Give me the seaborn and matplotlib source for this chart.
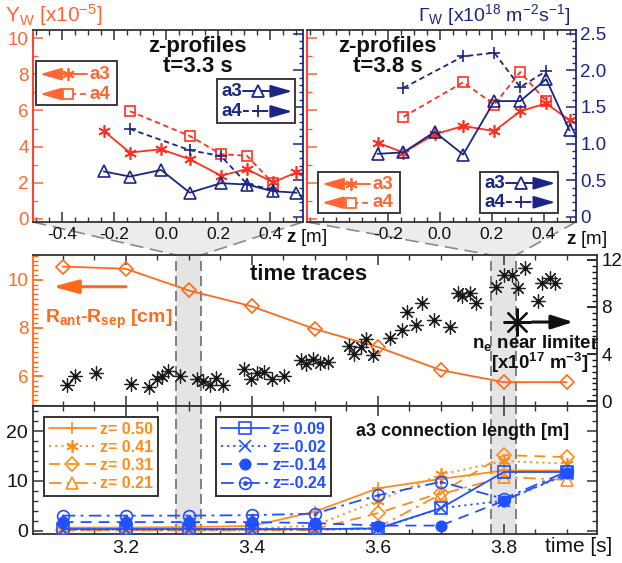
import numpy as np
import pandas as pd
import matplotlib
matplotlib.use('Agg')
import matplotlib.pyplot as plt
import seaborn as sns
from matplotlib.patches import Rectangle, Polygon
from matplotlib.lines import Line2D
from matplotlib.ticker import MultipleLocator, FixedLocator, FuncFormatter
from matplotlib.legend_handler import HandlerTuple

# ---------------- data ----------------
z_a3 = [-0.24, -0.14, -0.02, 0.09, 0.21, 0.31, 0.41, 0.50]
z_a4 = [-0.14, 0.09, 0.21, 0.31, 0.41]

yw_a3_t33 = [4.86, 3.67, 3.85, 3.30, 2.39, 2.75, 2.02, 2.57]
yw_a4_t33 = [5.96, 4.59, 3.58, 3.49, 1.96]
gw_a3_t33 = [0.62, 0.55, 0.64, 0.33, 0.46, 0.44, 0.35, 0.33]
gw_a4_t33 = [1.20, 0.91, 0.83, 0.45, 0.37]

yw_a3_t38 = [4.22, 3.67, 4.68, 5.14, 4.86, 5.96, 6.39, 5.47]
yw_a4_t38 = [5.65, 7.56, 6.33, 8.13, 6.51]
gw_a3_t38 = [0.86, 0.88, 1.16, 0.85, 1.58, 1.58, 1.88, 1.18]
gw_a4_t38 = [1.76, 2.19, 2.24, 1.77, 1.99]

t_scan = [3.1, 3.2, 3.3, 3.4, 3.5, 3.6, 3.7, 3.8, 3.9]
r_ant_sep = [10.55, 10.46, 9.56, 8.90, 7.96, 7.21, 6.25, 5.75, 5.75]

ne_t = [3.107, 3.119, 3.153, 3.209, 3.237, 3.249, 3.258, 3.268, 3.287, 3.314,
        3.323, 3.334, 3.344, 3.355, 3.388, 3.399, 3.408, 3.420, 3.432, 3.451,
        3.478, 3.487, 3.497, 3.508, 3.521, 3.554, 3.562, 3.573, 3.582, 3.592,
        3.620, 3.639, 3.647, 3.660, 3.671, 3.689, 3.715, 3.727, 3.734, 3.746,
        3.756, 3.787, 3.801, 3.813, 3.822, 3.833, 3.854, 3.860, 3.873, 3.882]
ne_val = [1.36, 2.12, 2.40, 1.41, 1.21, 1.89, 2.17, 2.54, 2.17, 1.89,
          1.69, 1.33, 1.98, 1.36, 2.74, 1.84, 2.40, 2.46, 1.89, 2.12,
          3.47, 3.11, 3.59, 3.25, 3.30, 4.66, 4.04, 4.60, 5.28, 3.95,
          5.36, 6.01, 7.54, 6.49, 8.33, 6.86, 6.30, 9.23, 8.95, 9.23,
          8.33, 9.74, 10.73, 10.73, 9.60, 11.35, 8.47, 10.02, 10.45, 10.08]

conn_labels_orange = ['z= 0.50', 'z= 0.41', 'z= 0.31', 'z= 0.21']
conn_labels_blue = ['z= 0.09', 'z=-0.02', 'z=-0.14', 'z=-0.24']
conn_z050 = [0.6, 0.6, 0.7, 0.9, 3.8, 8.5, 10.4, 12.1, 12.1]
conn_z041 = [0.3, 0.3, 0.3, 0.4, 1.0, 6.0, 11.3, 14.0, 13.5]
conn_z031 = [0.1, 0.1, 0.1, 0.1, 0.3, 3.5, 7.6, 15.2, 14.8]
conn_z021 = [0.0, 0.0, 0.0, 0.0, 0.1, 0.6, 7.3, 10.8, 10.2]
conn_z009 = [0.3, 0.3, 0.3, 0.3, 0.3, 0.4, 4.5, 11.8, 11.8]
conn_zm002 = [0.2, 0.2, 0.2, 0.2, 0.2, 0.3, 4.5, 6.0, 11.3]
conn_zm014 = [1.7, 1.7, 1.7, 1.7, 1.5, 1.0, 1.0, 6.0, 11.5]
conn_zm024 = [3.0, 3.0, 3.0, 3.1, 3.4, 7.1, 9.8, 6.4, 11.9]

bands = [(3.28, 3.32), (3.78, 3.82)]

# ---------------- style ----------------
sns.set_theme(style='ticks')
plt.rcParams['font.family'] = ['Liberation Sans', 'DejaVu Sans']
plt.rcParams['mathtext.fontset'] = 'custom'
plt.rcParams['mathtext.rm'] = 'Liberation Sans'
plt.rcParams['mathtext.it'] = 'Liberation Sans:italic'
plt.rcParams['mathtext.bf'] = 'Liberation Sans:bold'
plt.rcParams['axes.linewidth'] = 1.3

RED = '#FF2F1F'
ORG_AX = '#FF6633'
NAVY = '#1B2585'
R_ORANGE = '#FF6A1A'
B_ORANGE = '#FF8C1A'
B_BLUE = '#2050FF'
SPINE = '#333333'
BAND = '#e4e4e4'
DASHGRAY = '#6e6e6e'
TICK_FS = 12.5

W, H = 622, 563
fig = plt.figure(figsize=(W / 100, H / 100), dpi=100)


def fax(x0, y0, x1, y1):
    return fig.add_axes([x0 / W, 1 - y1 / H, (x1 - x0) / W, (y1 - y0) / H])


def sline(ax, x, y, color, marker, ls='-', ms=7, mfc='none', lw=1.3, mew=1.2, z=3):
    sns.lineplot(x=x, y=y, ax=ax, color=color, marker=marker, linestyle=ls,
                 markersize=ms, markerfacecolor=mfc, markeredgecolor=color,
                 markeredgewidth=mew, linewidth=lw, estimator=None, sort=False,
                 legend=False, zorder=z)


ASTER = (6, 2, 0)
DASH_S = (0, (3, 2))

# ---------------- top panels ----------------
axL = fax(33, 30, 303, 222)
axLg = axL.twinx()
axR = fax(307, 30, 576, 222)
axRg = axR.twinx()

ZLIM = (-0.512, 0.525)
YWLIM = (-0.18, 10.46)
GLIM = (-0.07, 2.55)

panels = [
    (axL, axLg, yw_a3_t33, yw_a4_t33, gw_a3_t33, gw_a4_t33, 't=3.3 s', True, False,
     [-0.4, -0.2, 0.0, 0.2, 0.4], 0.61),
    (axR, axRg, yw_a3_t38, yw_a4_t38, gw_a3_t38, gw_a4_t38, 't=3.8 s', False, True,
     [-0.2, 0.0, 0.2, 0.4], 0.30),
]
for ax, axg, ya3, ya4, ga3, ga4, ttl, lab_left, lab_right, zt, tx in panels:
    sline(ax, z_a3, ya3, RED, ASTER, '-', ms=9)
    sline(ax, z_a4, ya4, RED, 's', DASH_S, ms=7.5)
    sline(axg, z_a3, ga3, NAVY, '^', '-', ms=8)
    sline(axg, z_a4, ga4, NAVY, '+', DASH_S, ms=8)
    ax.set_xlim(ZLIM)
    ax.set_ylim(YWLIM)
    axg.set_ylim(GLIM)
    ax.set_xlabel('')
    ax.set_ylabel('')
    axg.set_ylabel('')
    ax.xaxis.set_major_locator(FixedLocator(zt))
    ax.xaxis.set_minor_locator(MultipleLocator(0.05))
    ax.xaxis.set_major_formatter(FuncFormatter(lambda v, p: f'{v:.1f}'))
    ax.yaxis.set_major_locator(MultipleLocator(2))
    ax.yaxis.set_minor_locator(MultipleLocator(1))
    axg.yaxis.set_major_locator(MultipleLocator(0.5))
    axg.yaxis.set_minor_locator(MultipleLocator(0.1))
    axg.yaxis.set_major_formatter(FuncFormatter(lambda v, p: '0' if abs(v) < 1e-9 else f'{v:.1f}'))
    ax.tick_params(axis='x', which='both', direction='in', top=True, bottom=True,
                   labelsize=TICK_FS, pad=3.5, color=SPINE, labelcolor='#111111')
    ax.tick_params(axis='x', which='major', length=7, width=1.1)
    ax.tick_params(axis='x', which='minor', length=3.5, width=1.0)
    ax.tick_params(axis='y', which='both', direction='in', left=True, right=False,
                   colors=ORG_AX, labelleft=lab_left, labelsize=TICK_FS + 1, pad=3)
    ax.tick_params(axis='y', which='major', length=7, width=1.1)
    ax.tick_params(axis='y', which='minor', length=3.5)
    axg.tick_params(axis='y', which='both', direction='in', right=True, left=False,
                    colors=NAVY, labelright=lab_right, labelsize=TICK_FS + 1, pad=3)
    axg.tick_params(axis='y', which='major', length=7, width=1.1)
    axg.tick_params(axis='y', which='minor', length=3)
    ax.spines['left'].set_color(RED)
    ax.spines['right'].set_visible(False)
    ax.spines['top'].set_color(SPINE)
    ax.spines['bottom'].set_color(SPINE)
    for s in ['left', 'top', 'bottom']:
        axg.spines[s].set_visible(False)
    axg.spines['right'].set_color(NAVY)
    ax.text(tx, 0.915, 'z-profiles', transform=ax.transAxes, ha='center', va='center',
            fontsize=16, fontweight='bold', color='#111111')
    ax.text(tx, 0.81, ttl, transform=ax.transAxes, ha='center', va='center',
            fontsize=16, fontweight='bold', color='#111111')


def arrow_legend(ax, box, color, rows, side):
    x0, y0, x1, y1 = box
    tr = ax.transAxes
    ax.add_patch(Rectangle((x0, y0), x1 - x0, y1 - y0, transform=tr, facecolor='white',
                           edgecolor='#3a3a3a', lw=1.4, zorder=10, clip_on=False))
    bw, bh = x1 - x0, y1 - y0
    for (label, ry, ls, mk, ms) in rows:
        y = y0 + ry * bh
        if side == 'left':
            tip, xe, xm, xt = x0 + 0.05 * bw, x0 + 0.63 * bw, x0 + 0.40 * bw, x0 + 0.66 * bw
            xs = tip + 0.04
            head_from = tip + 0.055
        else:
            xt, xs, xm, tip = x0 + 0.06 * bw, x0 + 0.33 * bw, x0 + 0.53 * bw, x0 + 0.965 * bw
            xe = tip - 0.04
            head_from = tip - 0.055
        ax.add_line(Line2D([xs, xe], [y, y], transform=tr, color=color, ls=ls, lw=1.4, zorder=11))
        ax.add_line(Line2D([xm], [y], transform=tr, marker=mk, ms=ms, mfc='white', mec=color,
                           mew=1.3, ls='none', zorder=12))
        ax.annotate('', xy=(tip, y), xytext=(head_from, y), xycoords=tr, textcoords=tr,
                    arrowprops=dict(arrowstyle='-|>,head_length=1.1,head_width=0.32',
                                    color=color, lw=1.4, shrinkA=0, shrinkB=0), zorder=12)
        ax.text(xt, y, label, transform=tr, color=color, fontsize=13.5, fontweight='bold',
                ha='left', va='center', zorder=12)


red_rows = [('a3', 0.70, '-', ASTER, 9), ('a4', 0.25, DASH_S, 's', 7.5)]
navy_rows = [('a3', 0.72, '-', '^', 8), ('a4', 0.26, DASH_S, '+', 8)]
arrow_legend(axLg, (0.011, 0.609, 0.311, 0.839), ORG_AX, red_rows, 'left')
arrow_legend(axLg, (0.681, 0.516, 0.970, 0.745), NAVY, navy_rows, 'right')
arrow_legend(axRg, (0.041, 0.047, 0.346, 0.262), ORG_AX, red_rows, 'left')
arrow_legend(axRg, (0.643, 0.047, 0.933, 0.262), NAVY, navy_rows, 'right')

fig.text(5 / W, 1 - 15 / H, r'$\mathregular{Y_W\ [x10^{-5}]}$', color=ORG_AX, fontsize=15,
         ha='left', va='center')
fig.text(418 / W, 1 - 15 / H, r'$\Gamma_\mathregular{W}\ \mathregular{[x10^{18}\ m^{-2}s^{-1}]}$',
         color=NAVY, fontsize=14, ha='left', va='center')
fig.text(286 / W, 1 - 238 / H, r'$\mathbf{z}$ [m]', fontsize=13.5, ha='left', va='center', color='#111111')
fig.text(566 / W, 1 - 239 / H, r'$\mathbf{z}$ [m]', fontsize=13.5, ha='left', va='center', color='#111111')

# ---------------- middle panel ----------------
TLIM = (3.053, 3.948)
axM = fax(33, 255, 597, 406)
axMg = axM.twinx()
axB = fax(33, 406, 597, 534)

for ax in (axM, axB):
    for a, b in bands:
        ax.axvspan(a, b, color=BAND, zorder=0, lw=0)
        ax.axvline(a, color=DASHGRAY, ls=(0, (6, 3)), lw=1.2, zorder=1)
        ax.axvline(b, color=DASHGRAY, ls=(0, (6, 3)), lw=1.2, zorder=1)

sline(axM, t_scan, r_ant_sep, R_ORANGE, 'D', '-', ms=7.5, lw=1.3)
sns.scatterplot(x=ne_t, y=ne_val, ax=axMg, marker=(8, 2, 0), s=95, color='#222222',
                linewidth=0.9, legend=False, zorder=3)
sns.scatterplot(x=ne_t, y=ne_val, ax=axMg, marker='o', s=5, color='#111111',
                linewidth=0, legend=False, zorder=3)
axM.set_xlim(TLIM)
axM.set_ylim(4.76, 11.03)
axMg.set_ylim(-0.42, 12.42)
axM.set_xlabel('')
axM.set_ylabel('')
axMg.set_ylabel('')
axM.xaxis.set_major_locator(MultipleLocator(0.2))
axM.xaxis.set_minor_locator(MultipleLocator(0.05))
axM.yaxis.set_major_locator(FixedLocator([6, 8, 10]))
axM.yaxis.set_minor_locator(MultipleLocator(0.2))
axMg.yaxis.set_major_locator(FixedLocator([0, 4, 8, 12]))
axMg.yaxis.set_minor_locator(MultipleLocator(0.5))
axM.tick_params(axis='x', which='both', direction='in', top=True, bottom=True,
                labelbottom=False, color=SPINE)
axM.tick_params(axis='x', which='major', length=7, width=1.1)
axM.tick_params(axis='x', which='minor', length=3.5)
axM.tick_params(axis='y', which='both', direction='in', colors=R_ORANGE, labelsize=TICK_FS + 1, pad=3)
axM.tick_params(axis='y', which='major', length=7)
axM.tick_params(axis='y', which='minor', length=3.5)
axMg.tick_params(axis='y', which='both', direction='in', colors='#111111', labelsize=TICK_FS + 1, pad=3)
axMg.tick_params(axis='y', which='major', length=7)
axMg.tick_params(axis='y', which='minor', length=3.5)
axM.spines['left'].set_color(R_ORANGE)
axM.spines['right'].set_visible(False)
for s in ['top', 'bottom']:
    axM.spines[s].set_color(SPINE)
for s in ['left', 'top', 'bottom']:
    axMg.spines[s].set_visible(False)
axMg.spines['right'].set_color(SPINE)

axM.text(0.488, 0.868, 'time traces', transform=axM.transAxes, ha='center', va='center',
         fontsize=16, fontweight='bold', color='#111111')
axM.annotate('', xy=(0.035, 0.79), xytext=(0.165, 0.79), xycoords=axM.transAxes,
             arrowprops=dict(arrowstyle='-|>,head_length=1.3,head_width=0.35', color=R_ORANGE,
                             lw=2.2, shrinkA=0, shrinkB=0))
axM.text(0.135, 0.575, r'R$_\mathbf{ant}$-R$_\mathbf{sep}$ [cm]', transform=axM.transAxes,
         ha='center', va='center', fontsize=14, fontweight='bold', color=R_ORANGE)
axMg.add_line(Line2D([0.858], [0.556], transform=axMg.transAxes, marker=(8, 2, 0), ms=20,
                     mew=1.6, color='#111111', ls='none'))
axMg.annotate('', xy=(0.958, 0.556), xytext=(0.885, 0.556), xycoords=axMg.transAxes,
              arrowprops=dict(arrowstyle='-|>,head_length=1.1,head_width=0.35', color='#111111',
                              lw=2.2, shrinkA=0, shrinkB=0))
axMg.text(0.892, 0.415, r'n$_\mathbf{e}$ near limiter', transform=axMg.transAxes, ha='center',
          va='center', fontsize=13.5, fontweight='bold', color='#111111')
axMg.text(0.899, 0.285, r'[x10$^\mathbf{17}$ m$^\mathbf{-3}$]', transform=axMg.transAxes,
          ha='center', va='center', fontsize=13.5, fontweight='bold', color='#111111')

# ---------------- bottom panel ----------------
LS_DD = (0, (6, 4))
LS_DDOT = (0, (7, 3, 1.5, 3))
LS_DOT = (0, (1.2, 2.2))
orange_series = [
    (conn_z050, '-', '+', 9, 'none'),
    (conn_z041, LS_DOT, ASTER, 9, 'none'),
    (conn_z031, LS_DD, 'D', 7, 'none'),
    (conn_z021, LS_DDOT, '^', 8, 'none'),
]
blue_series = [
    (conn_z009, '-', 's', 8, 'none'),
    (conn_zm002, LS_DOT, 'x', 8, 'none'),
    (conn_zm014, LS_DD, 'o', 7.5, B_BLUE),
    (conn_zm024, LS_DDOT, 'o', 8.5, 'none'),
]
for vals, ls, mk, ms, mfc in orange_series:
    sline(axB, t_scan, vals, B_ORANGE, mk, ls, ms=ms, mfc=mfc, lw=1.3)
for vals, ls, mk, ms, mfc in blue_series:
    sline(axB, t_scan, vals, B_BLUE, mk, ls, ms=ms, mfc=mfc, lw=1.3)
sns.scatterplot(x=t_scan, y=conn_zm024, ax=axB, marker='o', s=7, color=B_BLUE, linewidth=0,
                legend=False, zorder=4)

axB.set_xlim(TLIM)
axB.set_ylim(-0.7, 25.1)
axB.set_xlabel('')
axB.set_ylabel('')
axB.xaxis.set_major_locator(FixedLocator([3.2, 3.4, 3.6, 3.8]))
axB.xaxis.set_minor_locator(MultipleLocator(0.05))
axB.xaxis.set_major_formatter(FuncFormatter(lambda v, p: f'{v:.1f}'))
axB.yaxis.set_major_locator(MultipleLocator(10))
axB.yaxis.set_minor_locator(MultipleLocator(2))
axB.tick_params(axis='both', which='both', direction='in', top=True, bottom=True, left=True,
                right=True, labelsize=TICK_FS + 1.5, color=SPINE, labelcolor='#111111')
axB.tick_params(axis='both', which='major', length=7, width=1.1)
axB.tick_params(axis='both', which='minor', length=3.5)
axB.tick_params(axis='x', pad=4)
for s in axB.spines.values():
    s.set_color(SPINE)

axB.text(0.762, 0.80, 'a3 connection length [m]', transform=axB.transAxes, ha='center',
         va='center', fontsize=13, fontweight='bold', color='#111111')


def handles_for(series, color, dotted_last=False):
    hs = []
    for i, (vals, ls, mk, ms, mfc) in enumerate(series):
        h = Line2D([], [], color=color, ls=ls, marker=mk, ms=ms, mfc=mfc, mec=color, mew=1.2, lw=1.3)
        if dotted_last and i == len(series) - 1:
            d = Line2D([], [], color=color, ls='none', marker='o', ms=2.5, mfc=color, mec=color)
            h = (h, d)
        hs.append(h)
    return hs


for series, labels, color, x0 in [(orange_series, conn_labels_orange, B_ORANGE, 0.019),
                                   (blue_series, conn_labels_blue, B_BLUE, 0.325)]:
    leg = axB.legend(handles_for(series, color, dotted_last=(color == B_BLUE)), labels,
                     loc='upper left', bbox_to_anchor=(x0, 0.915), borderaxespad=0,
                     frameon=True, fancybox=False, edgecolor='#333333', framealpha=1,
                     handlelength=3.0, handletextpad=0.2, labelspacing=0.2,
                     borderpad=0.3, prop={'weight': 'bold', 'size': 11.5},
                     handler_map={tuple: HandlerTuple(ndivide=1)})
    leg.get_frame().set_linewidth(1.4)
    for txt in leg.get_texts():
        txt.set_color(color)
    axB.add_artist(leg)

fig.text(545 / W, 1 - 546 / H, 'time [s]', fontsize=15, ha='left', va='center', color='#111111')

# ---------------- zoom connectors ----------------
inv = fig.transFigure.inverted()


def to_fig(tr, pt):
    return inv.transform(tr.transform(pt))


ytop_m = axM.get_ylim()[1]
for axtop, (a, b) in [(axL, bands[0]), (axR, bands[1])]:
    p1 = to_fig(axtop.transAxes, (0, 0))
    p2 = to_fig(axtop.transAxes, (1, 0))
    p3 = to_fig(axM.transData, (b, ytop_m))
    p4 = to_fig(axM.transData, (a, ytop_m))
    fig.add_artist(Polygon([p1, p2, p3, p4], closed=True, transform=fig.transFigure,
                           facecolor='#ececec', edgecolor='none', zorder=-1))
    fig.add_artist(Line2D([p1[0], p4[0]], [p1[1], p4[1]], transform=fig.transFigure,
                          color='#8a8a8a', ls=(0, (8, 4)), lw=1.2, zorder=-0.5))
    fig.add_artist(Line2D([p2[0], p3[0]], [p2[1], p3[1]], transform=fig.transFigure,
                          color='#8a8a8a', ls=(0, (8, 4)), lw=1.2, zorder=-0.5))

fig.savefig('out.png', dpi=100)
